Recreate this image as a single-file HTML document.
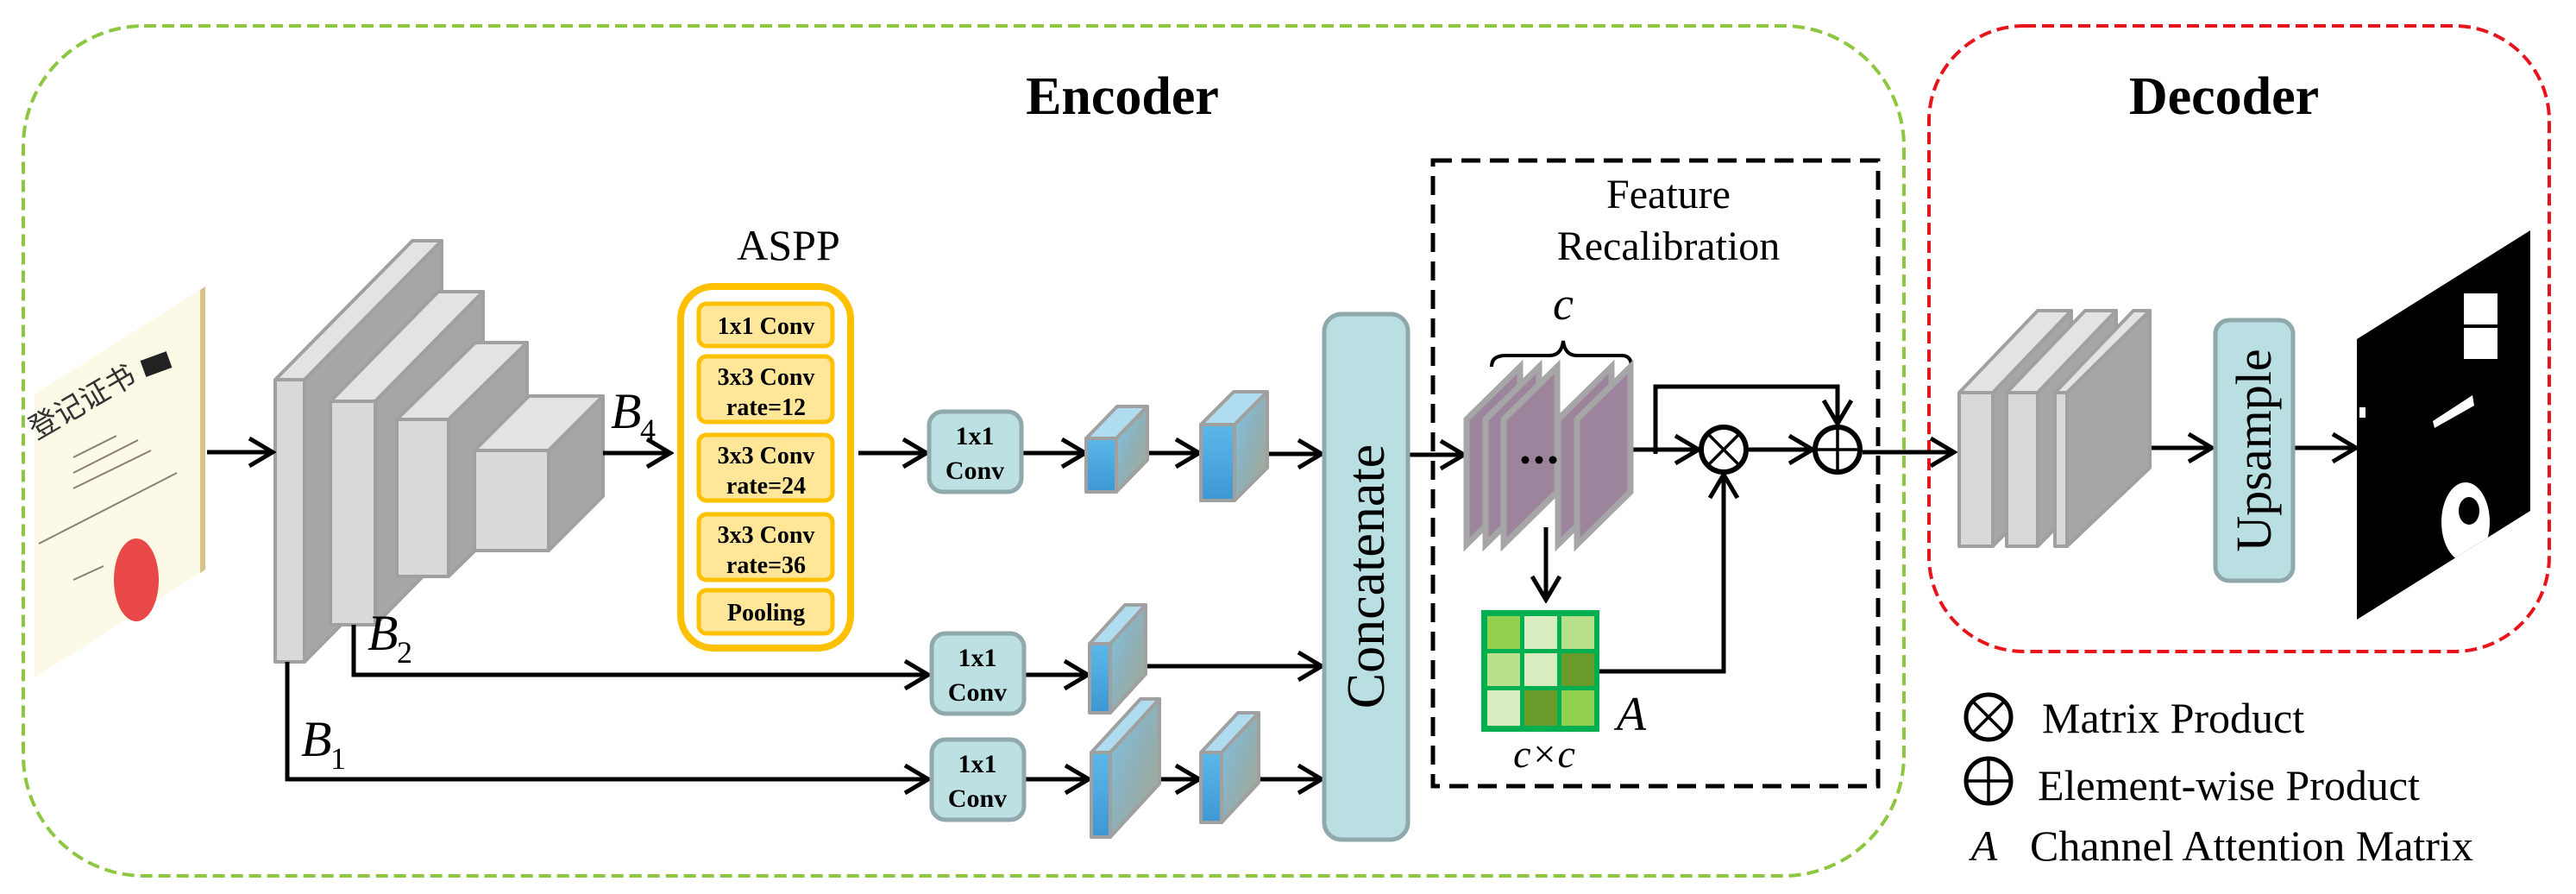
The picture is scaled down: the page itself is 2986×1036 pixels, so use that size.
<!DOCTYPE html>
<html><head><meta charset="utf-8"><style>
html,body{margin:0;padding:0;background:#fff;}
svg{display:block;}
text{font-family:"Liberation Serif",serif;}
</style></head><body>
<svg width="2986" height="1036" viewBox="0 0 2986 1036" xmlns="http://www.w3.org/2000/svg">
<defs>
<marker id="ar" markerUnits="userSpaceOnUse" markerWidth="34" markerHeight="38" viewBox="0 0 34 38" refX="30" refY="19" orient="auto">
<path d="M3,3 L30,19 L3,35" fill="none" stroke="#000" stroke-width="5"/>
</marker>
<linearGradient id="bf" x1="0" y1="0" x2="0" y2="1"><stop offset="0" stop-color="#5cb8ea"/><stop offset="1" stop-color="#3d97d3"/></linearGradient>
<linearGradient id="bs" x1="0" y1="0" x2="1" y2="1"><stop offset="0" stop-color="#7cc6e6"/><stop offset="0.5" stop-color="#8fb0b8"/><stop offset="1" stop-color="#a7a88a"/></linearGradient>
<clipPath id="mk"><polygon points="2732,393 2933,267 2933,592 2732,718"/></clipPath>
</defs>

<!-- boxes -->
<rect x="27" y="30" width="2180" height="985" rx="140" ry="140" fill="none" stroke="#8dc63f" stroke-width="4" stroke-dasharray="14,7"/>
<rect x="2236" y="30" width="719" height="725" rx="110" ry="110" fill="none" stroke="#e8141c" stroke-width="4" stroke-dasharray="14,7"/>
<text x="1301" y="132" font-size="62" font-weight="bold" text-anchor="middle">Encoder</text>
<text x="2578" y="132" font-size="62" font-weight="bold" text-anchor="middle">Decoder</text>

<!-- certificate -->
<polygon points="40,457 238,332 238,660 40,785" fill="#fcf9e6"/>
<polygon points="232,336 238,332 238,660 232,664" fill="#d8c48a"/>
<g stroke="#8a8070" stroke-width="2">
<line x1="85" y1="530" x2="135" y2="505"/><line x1="85" y1="548" x2="160" y2="510"/>
<line x1="85" y1="566" x2="175" y2="522"/><line x1="45" y1="630" x2="205" y2="548"/>
<line x1="85" y1="672" x2="120" y2="656"/>
</g>
<text x="42" y="510" font-size="34" fill="#333" transform="rotate(-30 42 510)" font-family="'Noto Sans CJK SC',sans-serif">登记证书</text>
<rect x="165" y="412" width="32" height="20" fill="#222" transform="rotate(-20 181 422)"/>
<ellipse cx="158" cy="672" rx="26" ry="48" fill="#e84848"/>

<!-- backbone blocks -->
<g stroke="#a0a0a0" stroke-width="4" stroke-linejoin="round">
<polygon points="319,440 478,279 512,279 353,440" fill="#e3e3e3"/>
<polygon points="353,440 512,279 512,606 353,767" fill="#a6a6a6"/>
<rect x="319" y="440" width="34" height="327" fill="#d9d9d9"/>
<polygon points="383,465 508,338 560,338 435,465" fill="#e3e3e3"/>
<polygon points="435,465 560,338 560,597 435,724" fill="#a6a6a6"/>
<rect x="383" y="465" width="52" height="259" fill="#d9d9d9"/>
<polygon points="460,486 551,397 611,397 520,486" fill="#e3e3e3"/>
<polygon points="520,486 611,397 611,579 520,668" fill="#a6a6a6"/>
<rect x="460" y="486" width="60" height="182" fill="#d9d9d9"/>
<polygon points="550,522 613,459 699,459 636,522" fill="#e3e3e3"/>
<polygon points="636,522 699,459 699,575 636,638" fill="#a6a6a6"/>
<rect x="550" y="522" width="86" height="116" fill="#d9d9d9"/>
</g>

<!-- labels B -->
<text x="708" y="496" font-size="58" font-style="italic">B</text><text x="742" y="510" font-size="36">4</text>
<text x="426" y="753" font-size="58" font-style="italic">B</text><text x="460" y="768" font-size="36">2</text>
<text x="349" y="876" font-size="58" font-style="italic">B</text><text x="383" y="891" font-size="36">1</text>

<!-- connectors -->
<g stroke="#000" stroke-width="5" fill="none">
<line x1="240" y1="524" x2="316" y2="524" marker-end="url(#ar)"/>
<line x1="699" y1="525" x2="777" y2="525" marker-end="url(#ar)"/>
<line x1="995" y1="525" x2="1074" y2="525" marker-end="url(#ar)"/>
<line x1="1184" y1="525" x2="1258" y2="525" marker-end="url(#ar)"/>
<line x1="1316" y1="525" x2="1390" y2="525" marker-end="url(#ar)"/>
<line x1="1459" y1="526" x2="1532" y2="526" marker-end="url(#ar)"/>
<polyline points="410,724 410,782 1076,782" marker-end="url(#ar)"/>
<line x1="1187" y1="782" x2="1261" y2="782" marker-end="url(#ar)"/>
<line x1="1328" y1="772" x2="1532" y2="772" marker-end="url(#ar)"/>
<polyline points="333,767 333,903 1076,903" marker-end="url(#ar)"/>
<line x1="1187" y1="903" x2="1262" y2="903" marker-end="url(#ar)"/>
<line x1="1316" y1="903" x2="1390" y2="903" marker-end="url(#ar)"/>
<line x1="1459" y1="903" x2="1532" y2="903" marker-end="url(#ar)"/>
<line x1="1632" y1="527" x2="1697" y2="527" marker-end="url(#ar)"/>
<line x1="1792" y1="611" x2="1792" y2="695" marker-end="url(#ar)"/>
<line x1="1892" y1="521" x2="1969" y2="521" marker-end="url(#ar)"/>
<polyline points="1919,526 1919,448 2130,448 2130,491" marker-end="url(#ar)"/>
<polyline points="1854,778 1998,778 1998,550" marker-end="url(#ar)"/>
<line x1="2027" y1="521" x2="2101" y2="521" marker-end="url(#ar)"/>
<line x1="2159" y1="524" x2="2265" y2="524" marker-end="url(#ar)"/>
<line x1="2492" y1="519" x2="2564" y2="519" marker-end="url(#ar)"/>
<line x1="2658" y1="519" x2="2731" y2="519" marker-end="url(#ar)"/>
</g>

<!-- ASPP -->
<text x="914" y="301" font-size="50" text-anchor="middle">ASPP</text>
<rect x="789" y="332" width="197" height="419" rx="38" fill="#fff" stroke="#ffc000" stroke-width="8"/>
<g fill="#ffe699" stroke="#ffc000" stroke-width="5">
<rect x="810" y="352" width="155" height="49" rx="9"/>
<rect x="810" y="413" width="155" height="76" rx="9"/>
<rect x="810" y="504" width="155" height="76" rx="9"/>
<rect x="810" y="596" width="155" height="76" rx="9"/>
<rect x="810" y="684" width="155" height="50" rx="9"/>
</g>
<g font-size="28" font-weight="bold" text-anchor="middle">
<text x="888" y="387">1x1 Conv</text>
<text x="888" y="446">3x3 Conv</text><text x="888" y="481">rate=12</text>
<text x="888" y="537">3x3 Conv</text><text x="888" y="572">rate=24</text>
<text x="888" y="629">3x3 Conv</text><text x="888" y="664">rate=36</text>
<text x="888" y="719">Pooling</text>
</g>

<!-- 1x1 conv boxes -->
<g fill="#bde0e3" stroke="#8fa9ad" stroke-width="5">
<rect x="1077" y="477" width="107" height="93" rx="16"/>
<rect x="1080" y="734" width="107" height="93" rx="16"/>
<rect x="1080" y="857" width="107" height="93" rx="16"/>
</g>
<g font-size="30" font-weight="bold" text-anchor="middle">
<text x="1130" y="515">1x1</text><text x="1130" y="555">Conv</text>
<text x="1133" y="772">1x1</text><text x="1133" y="812">Conv</text>
<text x="1133" y="895">1x1</text><text x="1133" y="935">Conv</text>
</g>

<!-- small feature blocks -->
<g stroke="#a0a0a0" stroke-width="4" stroke-linejoin="round">
<polygon points="1259,508 1295,471 1330,471 1294,508" fill="#b0dcef"/>
<polygon points="1294,508 1330,471 1330,533 1294,570" fill="url(#bs)"/>
<rect x="1259" y="508" width="35" height="62" fill="url(#bf)"/>
<polygon points="1392,492 1430,454 1469,454 1431,492" fill="#b0dcef"/>
<polygon points="1431,492 1469,454 1469,542 1431,580" fill="url(#bs)"/>
<rect x="1392" y="492" width="39" height="88" fill="url(#bf)"/>
<polygon points="1263,746 1304,701 1328,701 1287,746" fill="#b0dcef"/>
<polygon points="1287,746 1328,701 1328,781 1287,826" fill="url(#bs)"/>
<rect x="1263" y="746" width="24" height="80" fill="url(#bf)"/>
<polygon points="1265,872 1322,810 1344,810 1287,872" fill="#b0dcef"/>
<polygon points="1287,872 1344,810 1344,908 1287,970" fill="url(#bs)"/>
<rect x="1265" y="872" width="22" height="98" fill="url(#bf)"/>
<polygon points="1392,872 1435,826 1459,826 1416,872" fill="#b0dcef"/>
<polygon points="1416,872 1459,826 1459,907 1416,953" fill="url(#bs)"/>
<rect x="1392" y="872" width="24" height="81" fill="url(#bf)"/>
</g>

<!-- Concatenate -->
<rect x="1535" y="364" width="97" height="609" rx="20" fill="#b9dfe2" stroke="#8fa8ab" stroke-width="5"/>
<text x="0" y="0" font-size="62" text-anchor="middle" transform="translate(1604 668) rotate(-90)">Concatenate</text>

<!-- Feature recalibration -->
<rect x="1661" y="186" width="516" height="725" fill="none" stroke="#000" stroke-width="5" stroke-dasharray="22,11"/>
<text x="1934" y="241" font-size="48" text-anchor="middle">Feature</text>
<text x="1934" y="301" font-size="48" text-anchor="middle">Recalibration</text>
<text x="1812" y="370" font-size="54" font-style="italic" text-anchor="middle">c</text>
<path d="M1729,425 Q1729,412 1745,412 L1796,412 Q1810,412 1812,395 Q1814,412 1828,412 L1880,412 Q1891,412 1891,425" fill="none" stroke="#000" stroke-width="4"/>
<g stroke="#a6a6a6" stroke-width="7" fill="#9b849c" stroke-linejoin="miter">
<polygon points="1700,486 1762,425 1762,570 1700,631"/>
<polygon points="1722,486 1784,425 1784,570 1722,631"/>
<polygon points="1743,486 1805,425 1805,570 1743,631"/>
<polygon points="1806,486 1868,425 1868,570 1806,631"/>
<polygon points="1828,486 1890,425 1890,570 1828,631"/>
</g>
<circle cx="1768" cy="533" r="4.5"/><circle cx="1784" cy="533" r="4.5"/><circle cx="1800" cy="533" r="4.5"/>

<!-- matrix -->
<rect x="1717" y="707" width="137" height="141" fill="#00b050"/>
<g>
<rect x="1724" y="714" width="38" height="38" fill="#92d050"/><rect x="1767" y="714" width="38" height="38" fill="#d8ecc0"/><rect x="1810" y="714" width="38" height="38" fill="#b8e08a"/>
<rect x="1724" y="757" width="38" height="38" fill="#b8e08a"/><rect x="1767" y="757" width="38" height="38" fill="#d8ecc0"/><rect x="1810" y="757" width="38" height="38" fill="#6a9a2a"/>
<rect x="1724" y="800" width="38" height="41" fill="#d8ecc0"/><rect x="1767" y="800" width="38" height="41" fill="#6a9a2a"/><rect x="1810" y="800" width="38" height="41" fill="#92d050"/>
</g>
<text x="1891" y="846" font-size="56" font-style="italic" text-anchor="middle">A</text>
<text x="1790" y="889" font-size="46" font-style="italic" text-anchor="middle">c×c</text>

<!-- otimes / oplus -->
<g fill="#fff" stroke="#000" stroke-width="6">
<circle cx="1998" cy="521" r="26"/>
<circle cx="2130" cy="521" r="26"/>
</g>
<g stroke="#000" stroke-width="3.5">
<line x1="1980" y1="503" x2="2016" y2="539"/><line x1="2016" y1="503" x2="1980" y2="539"/>
<line x1="2104" y1="521" x2="2156" y2="521"/><line x1="2130" y1="495" x2="2130" y2="547"/>
</g>

<!-- decoder blocks -->
<g stroke="#a0a0a0" stroke-width="4" stroke-linejoin="round">
<polygon points="2271,455 2362,360 2401,360 2310,455" fill="#e3e3e3"/>
<polygon points="2310,455 2401,360 2401,540 2310,633" fill="#a6a6a6"/>
<rect x="2271" y="455" width="39" height="178" fill="#d9d9d9"/>
<polygon points="2326,455 2417,360 2453,360 2362,455" fill="#e3e3e3"/>
<polygon points="2362,455 2453,360 2453,540 2362,633" fill="#a6a6a6"/>
<rect x="2326" y="455" width="36" height="178" fill="#d9d9d9"/>
<polygon points="2382,455 2473,360 2492,360 2396,455" fill="#e3e3e3"/>
<polygon points="2396,455 2492,360 2492,542 2396,633" fill="#a6a6a6"/>
<rect x="2382" y="455" width="14" height="178" fill="#d9d9d9"/>
</g>
<rect x="2568" y="371" width="90" height="302" rx="16" fill="#b9dfe2" stroke="#8fa8ab" stroke-width="5"/>
<text x="0" y="0" font-size="58" text-anchor="middle" transform="translate(2632 522) rotate(-90)">Upsample</text>

<!-- output mask -->
<polygon points="2732,393 2933,267 2933,592 2732,718" fill="#000"/>
<g fill="#fff" clip-path="url(#mk)">
<rect x="2856" y="340" width="39" height="36"/>
<rect x="2856" y="380" width="39" height="36"/>
<polygon points="2820,488 2866,458 2868,470 2822,496"/>
<rect x="2735" y="472" width="7" height="12"/>
<ellipse cx="2858" cy="605" rx="28" ry="46"/>
<ellipse cx="2862" cy="592" rx="12" ry="16" fill="#000"/>
</g>

<!-- legend -->
<g fill="#fff" stroke="#000" stroke-width="5">
<circle cx="2305" cy="831" r="26"/>
<circle cx="2305" cy="905" r="26"/>
</g>
<g stroke="#000" stroke-width="3.5">
<line x1="2288" y1="814" x2="2322" y2="848"/><line x1="2322" y1="814" x2="2288" y2="848"/>
<line x1="2279" y1="905" x2="2331" y2="905"/><line x1="2305" y1="879" x2="2305" y2="931"/>
</g>
<text x="2367" y="849" font-size="50">Matrix Product</text>
<text x="2362" y="927" font-size="50">Element-wise Product</text>
<text x="2300" y="997" font-size="50" font-style="italic" text-anchor="middle">A</text>
<text x="2353" y="997" font-size="50">Channel Attention Matrix</text>
</svg>
</body></html>
